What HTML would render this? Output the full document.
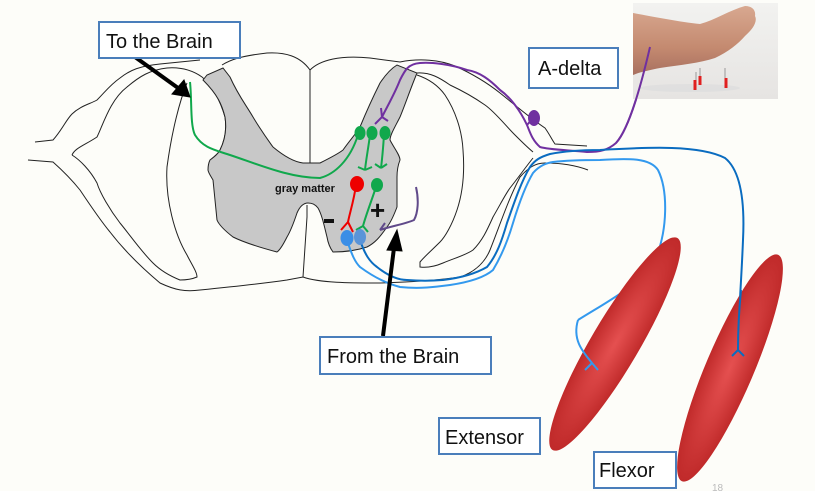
<!DOCTYPE html>
<html><head><style>
html,body{margin:0;padding:0;background:#fdfdf9;}
svg{display:block;}
.lbl{font-family:"Liberation Sans",sans-serif;font-size:20px;fill:#111;}
</style></head><body>
<svg width="815" height="491" viewBox="0 0 815 491" xmlns="http://www.w3.org/2000/svg">
<defs>
<radialGradient id="mg" cx="50%" cy="50%" r="50%">
<stop offset="0" stop-color="#e55050"/><stop offset="1" stop-color="#c02a2a"/>
</radialGradient>
<linearGradient id="ph" x1="0" y1="0" x2="0" y2="1">
<stop offset="0" stop-color="#f2f2f0"/><stop offset="1" stop-color="#e6e4e2"/>
</linearGradient>
<linearGradient id="skin" x1="0" y1="0" x2="0" y2="1">
<stop offset="0" stop-color="#d8a890"/><stop offset="0.6" stop-color="#c48a70"/><stop offset="1" stop-color="#a87060"/>
</linearGradient>
</defs>
<rect width="815" height="491" fill="#fdfdf9"/>
<g fill="none" stroke="#222" stroke-width="1">
<path d="M35,142 L53,140 C62,130 66,120 72,114 C80,106 90,104 97,100 C105,92 110,85 120,78 C130,70 140,66 160,64 L200,60"/>
<path d="M222,65 C230,60 240,56 267,53 C285,52 300,56 310,70 C320,60 340,55 370,58 L400,62 C420,58 440,60 455,66 C475,75 490,85 500,93 C515,105 530,118 545,128 C550,135 552,140 555,144 L587,146"/>
<path d="M28,160 L53,162 C62,170 72,180 80,190 C90,205 100,220 110,232 C120,245 135,262 160,283 C175,290 185,292 200,290 C230,287 260,284 287,280 L303,277 C320,283 350,283 380,283 C410,282 440,280 460,277 C475,272 485,262 490,250 C500,225 508,200 520,177 C528,168 535,163 545,163 C560,163 575,165 588,170"/>
<path d="M72,155 C75,148 85,145 97,137 C103,125 110,100 127,87 C140,76 150,70 167,68 C180,67 192,70 202,77 C212,85 220,100 225,117 C227,130 225,140 220,150"/>
<path d="M187,83 C180,100 172,130 167,167 C165,200 175,235 187,255 C192,265 197,272 197,277 C190,280 184,280 180,280 C170,276 160,270 153,263 C140,250 130,235 120,223 C110,210 100,193 97,183 C90,170 80,160 72,155"/>
<path d="M310,70 L310,163 M307,205 L307,217 L303,277"/>
<path d="M417,75 C432,80 440,88 445,95 C455,110 462,130 463,150 C465,175 462,195 457,210 C452,225 445,237 440,242 C432,250 425,256 420,262 L420,267 C428,268 436,266 443,263 C455,258 466,255 473,250 C483,240 488,228 493,217 C500,205 505,195 510,188 C518,178 525,168 533,158"/>
<path d="M417,73 C430,72 440,78 450,85 C465,92 475,98 485,105 C495,112 505,125 515,135 C522,142 527,147 533,152"/>
</g>
<!-- gray matter -->
<path d="M203,80 L207,75 L223,68 L230,77 C238,95 246,105 253,117 C262,132 268,140 273,147 C285,157 295,162 303,163 L320,163 C330,158 338,154 343,150 C350,140 355,135 360,127 C367,110 374,95 380,83 C386,74 392,68 397,65 L417,73 C410,90 405,105 400,117 C395,127 390,135 390,140 C394,148 400,155 400,160 C398,165 397,172 397,177 L397,207 C394,215 391,222 387,227 C380,237 375,243 367,247 C355,251 345,252 333,252 C330,248 328,243 327,237 C324,225 322,215 318,208 C315,204 312,203 308,203 C304,203 300,206 297,213 C293,225 290,232 287,237 C284,243 280,250 277,252 C262,248 245,243 233,237 C224,230 219,225 217,220 L213,180 C210,175 208,172 208,170 C208,165 209,162 210,160 C214,157 218,154 220,150 C225,140 227,130 225,117 C222,105 218,95 203,80 Z" fill="#c8c8c8" stroke="#222" stroke-width="1"/>
<g fill="none" stroke="#7030a0" stroke-width="2">
<path d="M650,47 C640,90 628,130 616,143 C608,150 600,152 587,152 C570,150 550,150 540,147 C532,140 530,132 527,125 C520,110 510,97 500,90 C490,80 480,72 467,70 C450,64 430,62 420,63 C408,64 405,70 400,80 C395,93 388,105 382,117 L375,124"/>
<path d="M382,117 L381,108 M382,117 L388,121"/>
</g>
<path d="M533,118 L527,125" stroke="#7030a0" stroke-width="2"/>
<ellipse cx="534" cy="118" rx="6" ry="8" fill="#7030a0"/>
<path d="M416,187 C419,200 418,213 414,220 C405,224 392,226 380,230 M380,230 L385,223" fill="none" stroke="#604a8a" stroke-width="2"/>
<g fill="none" stroke="#10a84c" stroke-width="2">
<path d="M190,82 C192,100 190,125 195,135 C203,148 215,150 230,155 C260,165 290,178 320,178 C335,174 350,160 358,135"/>
<path d="M370,135 C368,150 366,160 365,170 M365,170 L358,167 M365,170 L372,167"/>
<path d="M384,135 C383,150 382,160 381,168 M381,168 L375,164 M381,168 L387,164"/>
<path d="M375,190 C370,205 366,215 363,226 M363,226 L356,230 M363,226 L368,232"/>
</g>
<ellipse cx="360" cy="133" rx="5.5" ry="7" fill="#10a84c"/>
<ellipse cx="372" cy="133" rx="5.5" ry="7" fill="#10a84c"/>
<ellipse cx="385" cy="133" rx="5.5" ry="7" fill="#10a84c"/>
<ellipse cx="377" cy="185" rx="6" ry="7" fill="#10a84c"/>
<path d="M356,185 C354,200 350,212 348,222 M348,222 L341,230 M348,222 L353,232" fill="none" stroke="#e00" stroke-width="2"/>
<ellipse cx="357" cy="184" rx="7" ry="8" fill="#e00"/>
<path d="M360,240 C365,255 370,262 377,267 C387,275 397,280 407,280 C420,281 430,281 443,280 C460,278 475,274 487,267 C497,255 502,240 507,223 C515,200 522,180 530,167 C535,160 540,157 550,154 C570,150 590,150 600,150 C650,147 700,145 725,158 C740,170 745,200 743,240 C741,290 738,320 738,350" fill="none" stroke="#0a6cc0" stroke-width="2"/>
<path d="M348,243 C352,255 355,262 360,267 C375,278 388,284 400,287 C420,289 435,287 450,285 C470,282 485,277 493,270 C502,255 508,240 513,223 C520,200 527,183 533,173 C540,165 547,163 553,162 C570,160 590,160 600,160 C630,158 650,158 658,170 C668,190 668,230 655,260 C640,285 610,300 578,320" fill="none" stroke="#3399ee" stroke-width="2"/>
<ellipse cx="347" cy="238" rx="6.5" ry="8" fill="#3a8ee6"/>
<ellipse cx="360" cy="237" rx="6" ry="8" fill="#5a94d8"/>
<text x="275" y="192" font-family="Liberation Sans,sans-serif" font-size="11" font-weight="bold" fill="#111">gray matter</text>
<text x="370" y="219" font-family="Liberation Sans,sans-serif" font-size="26" font-weight="bold" fill="#111">+</text>
<rect x="324" y="219" width="10" height="4" fill="#111"/>
<ellipse cx="615" cy="344" rx="123" ry="24" transform="rotate(120.5 615 344)" fill="url(#mg)"/>
<ellipse cx="730" cy="368" rx="123" ry="24" transform="rotate(113 730 368)" fill="url(#mg)"/>
<path d="M578,320 C572,340 583,352 592,363 M592,363 L585,370 M592,363 L598,370" fill="none" stroke="#3399ee" stroke-width="2"/>
<path d="M741,290 C738,320 738,340 738,350 M738,350 L732,356 M738,350 L744,356" fill="none" stroke="#0a6cc0" stroke-width="2"/>
<!-- photo -->
<rect x="633" y="3" width="145" height="96" fill="url(#ph)"/>
<path d="M633,13 C650,16 680,22 700,24 C715,20 730,10 745,6 C752,6 756,10 755,16 C758,22 752,30 745,36 C738,44 728,52 715,58 C700,63 680,65 660,68 C650,70 640,72 633,75 Z" fill="url(#skin)"/>
<ellipse cx="690" cy="88" rx="50" ry="4" fill="#ddd" opacity="0.8"/>
<g stroke="#e02020" stroke-width="3"><path d="M695,90 L695,80 M700,85 L700,76 M726,88 L726,78"/></g>
<g stroke="#999" stroke-width="1"><path d="M696,80 L696,72 M700,76 L700,68 M725,78 L725,68"/></g>
<path d="M650,47 C640,90 628,130 616,143" fill="none" stroke="#7030a0" stroke-width="2"/>
<g stroke="#000" stroke-width="4" fill="#000">
<line x1="135" y1="57" x2="185" y2="93"/>
<path d="M190,97 L172,94 L184,80 Z" stroke-width="1"/>
<line x1="383" y1="336" x2="395" y2="240"/>
<path d="M397,230 L387,250 L402,251 Z" stroke-width="1"/>
</g>
<g fill="#fff" stroke="#4a7ebb" stroke-width="2">
<rect x="99" y="22" width="141" height="36"/>
<rect x="529" y="48" width="89" height="40"/>
<rect x="320" y="337" width="171" height="37"/>
<rect x="439" y="418" width="101" height="36"/>
<rect x="594" y="452" width="82" height="36"/>
</g>
<text class="lbl" x="106" y="48">To the Brain</text>
<text class="lbl" x="538" y="75">A-delta</text>
<text class="lbl" x="327" y="363">From the Brain</text>
<text class="lbl" x="445" y="444">Extensor</text>
<text class="lbl" x="599" y="477">Flexor</text>
<text x="712" y="491" font-family="Liberation Sans,sans-serif" font-size="10" fill="#bbb">18</text>
</svg>
</body></html>
